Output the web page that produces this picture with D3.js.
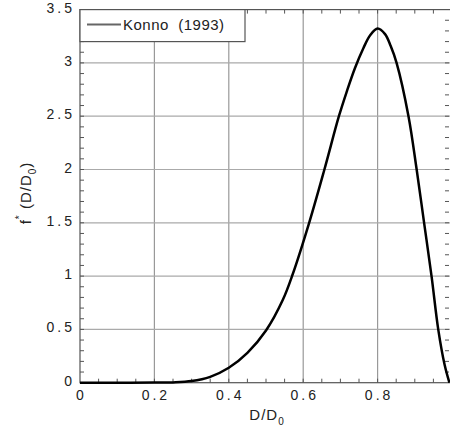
<!DOCTYPE html>
<html>
<head>
<meta charset="utf-8">
<script src="https://cdn.jsdelivr.net/npm/d3@7"></script>
<style>
  body { margin: 0; background: #fff; }
  text { font-family: "Liberation Sans", Arial, sans-serif; fill: #222; }
</style>
</head>
<body>
<div id="chart"></div>
<script>
// valores
var xValues = [0, 0.1, 0.2, 0.25, 0.3, 0.35, 0.4, 0.45, 0.5, 0.545, 0.572, 0.616, 0.657, 0.696, 0.717, 0.739, 0.762, 0.78, 0.8, 0.82, 0.835, 0.851, 0.883, 0.905, 0.925, 0.945, 0.963, 0.98, 0.993];
var yValues = [0, 0, 0.001, 0.003, 0.015, 0.055, 0.14, 0.28, 0.49, 0.776, 1.02, 1.5, 2.0, 2.5, 2.73, 2.95, 3.14, 3.26, 3.322, 3.27, 3.16, 3.0, 2.5, 2.0, 1.5, 1.0, 0.5, 0.17, 0];
var xTicks = [0, 0.2, 0.4, 0.6, 0.8];
var yTicks = [0, 0.5, 1, 1.5, 2, 2.5, 3, 3.5];
var legendLabel = "Konno  (1993)";

var W = 450, H = 434;
var mLeft = 80, mRight = 452, mTop = 9.6, mBottom = 382.7;

var svg = d3.select("#chart").append("svg")
    .attr("width", W)
    .attr("height", H);

var x = d3.scaleLinear().domain([0, 1]).range([mLeft, mRight]);
var y = d3.scaleLinear().domain([0, 3.5]).range([mBottom, mTop]);

// rejilla
svg.selectAll(".vgrid")
    .data(xTicks.slice(1))
    .enter().append("line")
    .attr("x1", d => x(d)).attr("x2", d => x(d))
    .attr("y1", mTop).attr("y2", mBottom)
    .attr("stroke", "#999").attr("stroke-width", 1.2);

svg.selectAll(".hgrid")
    .data(yTicks.slice(1, -1))
    .enter().append("line")
    .attr("x1", mLeft).attr("x2", mRight)
    .attr("y1", d => y(d)).attr("y2", d => y(d))
    .attr("stroke", "#aaa").attr("stroke-width", 1.2);

// marcas menores hacia dentro
var xMinor = d3.range(0.05, 1, 0.05);
var yMinor = d3.range(0.1, 3.5, 0.1);
var tl = 4;
svg.selectAll(".xminb").data(xMinor).enter().append("line")
    .attr("x1", d => x(d)).attr("x2", d => x(d))
    .attr("y1", mBottom).attr("y2", mBottom - tl)
    .attr("stroke", "#555");
svg.selectAll(".xmint").data(xMinor).enter().append("line")
    .attr("x1", d => x(d)).attr("x2", d => x(d))
    .attr("y1", mTop).attr("y2", mTop + tl)
    .attr("stroke", "#555");
svg.selectAll(".yminl").data(yMinor).enter().append("line")
    .attr("x1", mLeft).attr("x2", mLeft + tl)
    .attr("y1", d => y(d)).attr("y2", d => y(d))
    .attr("stroke", "#555");
svg.selectAll(".yminr").data(yMinor).enter().append("line")
    .attr("x1", mRight - 3).attr("x2", mRight - 3 - tl)
    .attr("y1", d => y(d)).attr("y2", d => y(d))
    .attr("stroke", "#555");

// marco
svg.append("rect")
    .attr("x", mLeft).attr("y", mTop)
    .attr("width", mRight - mLeft).attr("height", mBottom - mTop)
    .attr("fill", "none").attr("stroke", "#555").attr("stroke-width", 1.2);

// etiquetas de los ejes
svg.selectAll(".xlab").data(xTicks).enter().append("text")
    .attr("x", d => x(d) + 1.5)
    .attr("y", 400)
    .attr("text-anchor", "middle")
    .attr("font-size", 14)
    .attr("letter-spacing", 3)
    .text(d => d3.format("")(d));

svg.selectAll(".ylab").data(yTicks).enter().append("text")
    .attr("x", 75)
    .attr("y", d => y(d) + 3)
    .attr("text-anchor", "end")
    .attr("font-size", 14)
    .attr("letter-spacing", 3)
    .text(d => d3.format("")(d));

var xt = svg.append("text")
    .attr("x", 267).attr("y", 420)
    .attr("text-anchor", "middle")
    .attr("font-size", 15)
    .attr("letter-spacing", 1);
xt.append("tspan").text("D/D");
xt.append("tspan").attr("font-size", 10).attr("dy", 5).text("0");

var yt = svg.append("text")
    .attr("transform", "translate(31,193) rotate(-90)")
    .attr("text-anchor", "middle")
    .attr("font-size", 15)
    .attr("letter-spacing", 1);
yt.append("tspan").text("f");
yt.append("tspan").attr("font-size", 10).attr("dy", -8).text("*");
yt.append("tspan").attr("dy", 8).text(" (D/D");
yt.append("tspan").attr("font-size", 10).attr("dy", 5).text("0");
yt.append("tspan").attr("dy", -5).text(")");

// curva
var data = xValues.map((d, i) => ({x: d, y: yValues[i]}));
var line = d3.line()
    .x(d => x(d.x))
    .y(d => y(d.y))
    .curve(d3.curveCatmullRom.alpha(0.5));

svg.append("path")
    .datum(data)
    .attr("d", line)
    .attr("fill", "none")
    .attr("stroke", "#000")
    .attr("stroke-width", 2.5);

// leyenda
var lg = svg.append("g");
lg.append("rect")
    .attr("x", mLeft).attr("y", mTop)
    .attr("width", 165).attr("height", 32)
    .attr("fill", "#fff").attr("stroke", "#555").attr("stroke-width", 1.2);
lg.append("line")
    .attr("x1", 87).attr("x2", 121)
    .attr("y1", 24.5).attr("y2", 24.5)
    .attr("stroke", "#666").attr("stroke-width", 2);
lg.append("text")
    .attr("x", 123).attr("y", 30)
    .attr("font-size", 15)
    .attr("letter-spacing", 0.5)
    .style("white-space", "pre")
    .text(legendLabel);
</script>
</body>
</html>
